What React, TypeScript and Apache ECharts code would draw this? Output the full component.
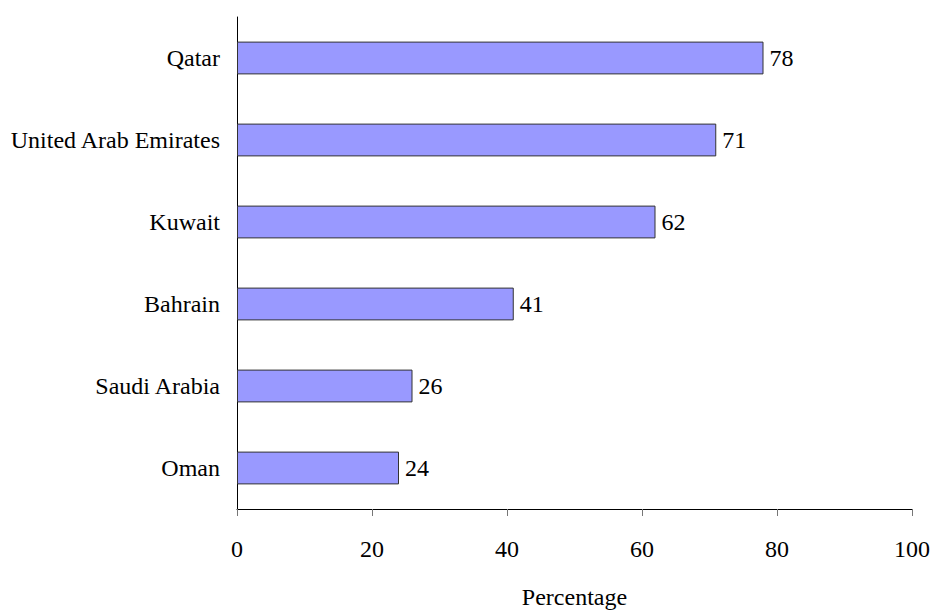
import React, { useEffect, useRef } from "react";
import * as echarts from "echarts";

const categories = ["Oman", "Saudi Arabia", "Bahrain", "Kuwait", "United Arab Emirates", "Qatar"];
const values = [24, 26, 41, 62, 71, 78];
const xTicks = { min: 0, max: 100, interval: 20 };

export default function App() {
  const ref = useRef<HTMLDivElement>(null);
  useEffect(() => {
    if (!ref.current) return;
    const chart = echarts.init(ref.current, null, { renderer: "svg", width: 932, height: 611 });
    const font = "Liberation Serif";
    chart.setOption({
      animation: false,
      backgroundColor: "#ffffff",
      grid: { left: 237, width: 675, top: 17, height: 492, containLabel: false, outerBoundsMode: "none" },
      xAxis: {
        type: "value",
        min: xTicks.min,
        max: xTicks.max,
        interval: xTicks.interval,
        name: "Percentage",
        nameLocation: "middle",
        nameGap: 75,
        nameTextStyle: { fontFamily: font, fontSize: 24, color: "#000", lineHeight: 26 },
        axisLine: { show: true, lineStyle: { color: "#000", width: 1 } },
        axisTick: { show: true, length: 7, lineStyle: { color: "#777" } },
        axisLabel: { fontFamily: font, fontSize: 24, color: "#000", margin: 28 },
        splitLine: { show: false },
      },
      yAxis: {
        type: "category",
        data: categories,
        axisLine: { show: true, lineStyle: { color: "#000", width: 1 } },
        axisTick: { show: false },
        axisLabel: { fontFamily: font, fontSize: 24, color: "#000", margin: 17 },
      },
      series: [
        {
          type: "bar",
          data: values,
          barWidth: "40%",
          itemStyle: { color: "#9999ff", borderColor: "#333333", borderWidth: 1 },
          label: {
            show: true,
            position: "right",
            distance: 6,
            fontFamily: font,
            fontSize: 24,
            color: "#000",
          },
        },
      ],
    });
    return () => chart.dispose();
  }, []);
  return <div ref={ref} style={{ width: 932, height: 611, position: "absolute", left: 0, top: 0 }} />;
}
